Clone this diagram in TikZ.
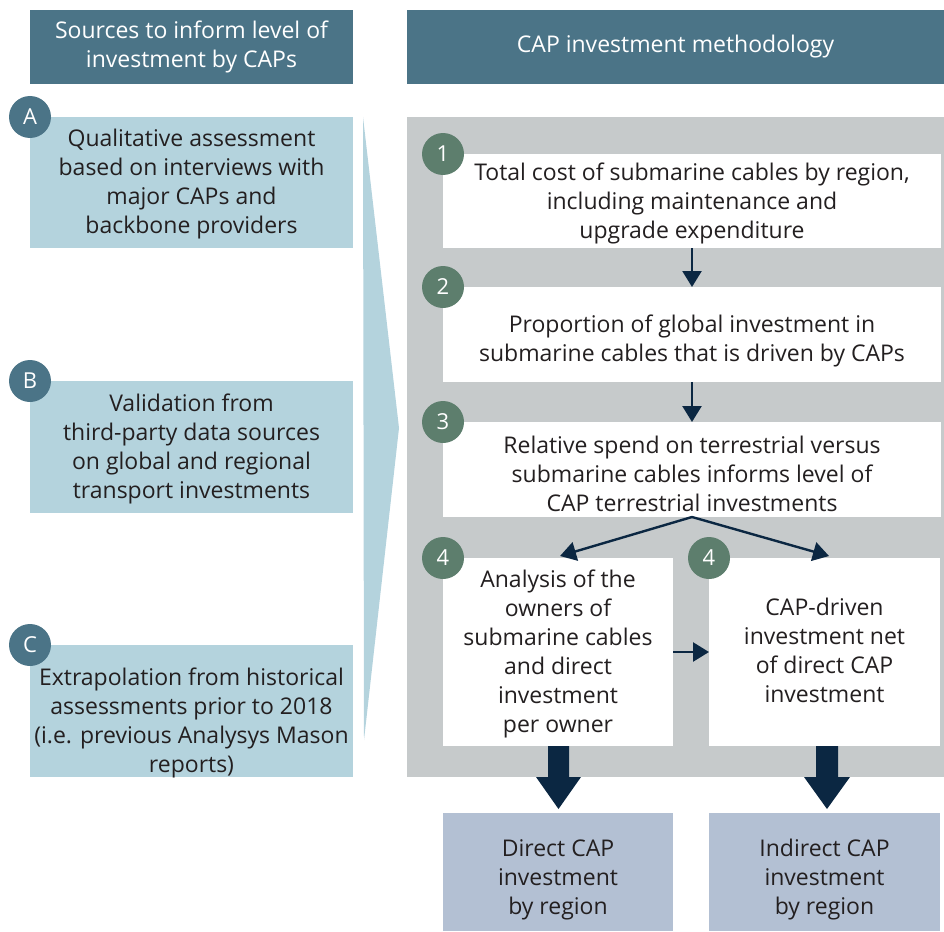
\documentclass[tikz,border=0pt]{standalone}
\usepackage{fontspec}
\setmainfont{Open Sans}
\usetikzlibrary{arrows.meta}
\definecolor{hdr}{HTML}{4B7487}
\definecolor{lblue}{HTML}{B4D3DD}
\definecolor{gpanel}{HTML}{C6CACB}
\definecolor{green4}{HTML}{5D7E6D}
\definecolor{navy}{HTML}{0B2742}
\definecolor{lav}{HTML}{B3C0D3}
\definecolor{txt}{HTML}{231F20}
\tikzset{
  base/.style={inner sep=0pt, outer sep=0pt, align=center, text=txt,
    font=\fontsize{23}{29}\selectfont},
  hdrbox/.style={base, fill=hdr, text=white},
  srcbox/.style={base, fill=lblue},
  whitebox/.style={base, fill=white},
  resbox/.style={base, fill=lav},
  letterc/.style={circle, fill=hdr, text=white, minimum size=42pt, inner sep=0pt,
    font=\fontsize{22}{25}\selectfont},
  numc/.style={circle, fill=green4, text=white, minimum size=42pt, inner sep=0pt,
    font=\fontsize{22}{25}\selectfont},
  arr/.style={draw=navy, line width=2.4pt, -{Triangle[length=16pt,width=19pt]}},
}
\begin{document}
\begin{tikzpicture}[x=1pt,y=-1pt]
\useasboundingbox (0,0) rectangle (944,931);
% headers
\node[hdrbox, minimum width=323pt, minimum height=74pt] (h1) at (191.5,47) {Sources to inform level of\\investment by CAPs};
\node[hdrbox, minimum width=537pt, minimum height=74pt] (h2) at (675.5,47) {CAP investment methodology};
% chevron
\fill[lblue] (363,117) -- (399,428) -- (364,740) -- cycle;
% source boxes
\node[srcbox, minimum width=323pt, minimum height=131pt] (A) at (191.5,182.5) {};
\node[base] (At) at (191.5,184) {Qualitative assessment\\based on interviews with\\major CAPs and\\backbone providers};
\node[srcbox, minimum width=323pt, minimum height=132pt] (B) at (191.5,447) {};
\node[base] (Bt) at (191.5,449) {Validation from\\third-party data sources\\on global and regional\\transport investments};
\node[srcbox, minimum width=323pt, minimum height=132pt] (C) at (191.5,711) {};
\node[base] (Ct) at (191.5,723) {Extrapolation from historical\\assessments prior to 2018\\(i.e. previous Analysys Mason\\reports)};
\node[letterc] (cA) at (A.north west) {A};
\node[letterc] (cB) at (B.north west) {B};
\node[letterc] (cC) at (C.north west) {C};
% gray panel
\node[fill=gpanel, inner sep=0pt, minimum width=537pt, minimum height=660pt] (panel) at (675.5,447) {};
% method boxes
\node[whitebox, minimum width=498pt, minimum height=94pt] (b1) at (692,201) {};
\node[base] (b1t) at (692,203) {Total cost of submarine cables by region,\\including maintenance and\\upgrade expenditure};
\node[whitebox, minimum width=498pt, minimum height=95pt] (b2) at (692,334.5) {};
\node[base] (b2t) at (692,341) {Proportion of global investment in\\submarine cables that is driven by CAPs};
\node[whitebox, minimum width=498pt, minimum height=95pt] (b3) at (692,469.5) {};
\node[base] (b3t) at (692,474) {Relative spend on terrestrial versus\\submarine cables informs level of\\CAP terrestrial investments};
\node[whitebox, minimum width=230pt, minimum height=188pt] (b4a) at (558,652) {};
\node[base] (b4at) at (558,654) {Analysis of the\\owners of\\submarine cables\\and direct\\investment\\per owner};
\node[whitebox, minimum width=231pt, minimum height=188pt] (b4b) at (824.5,652) {};
\node[base] (b4bt) at (824.5,650) {CAP-driven\\investment net\\of direct CAP\\investment};
\node[numc] (n1) at (b1.north west) {1};
\node[numc] (n2) at (b2.north west) {2};
\node[numc] (n3) at (b3.north west) {3};
\node[numc] (n4a) at (b4a.north west) {4};
\node[numc] (n4b) at (b4b.north west) {4};
% result boxes
\node[resbox, minimum width=230pt, minimum height=118pt] (r1) at (558,872) {};
\node[base] (r1t) at (558,880) {Direct CAP\\investment\\by region};
\node[resbox, minimum width=231pt, minimum height=118pt] (r2) at (824.5,872) {};
\node[base] (r2t) at (824.5,880) {Indirect CAP\\investment\\by region};
% arrows
\coordinate (ax) at (692,0);
\draw[arr] (b1.south -| ax) -- (b2.north -| ax);
\draw[arr] (b2.south -| ax) -- (b3.north -| ax);
\coordinate (la) at (560,556);
\coordinate (ra) at (829,556);
\draw[arr] (b3.south -| ax) -- (la);
\draw[arr] (b3.south -| ax) -- (ra);
\draw[arr] (b4a.east) -- (b4b.west);
% block arrows
\fill[navy] (548,746) -- (569,746) -- (569,777) -- (581,777) -- (558.5,809) -- (536,777) -- (548,777) -- cycle;
\fill[navy] (816,746) -- (838,746) -- (838,777) -- (850,777) -- (827,809) -- (804,777) -- (816,777) -- cycle;
\end{tikzpicture}
\end{document}
